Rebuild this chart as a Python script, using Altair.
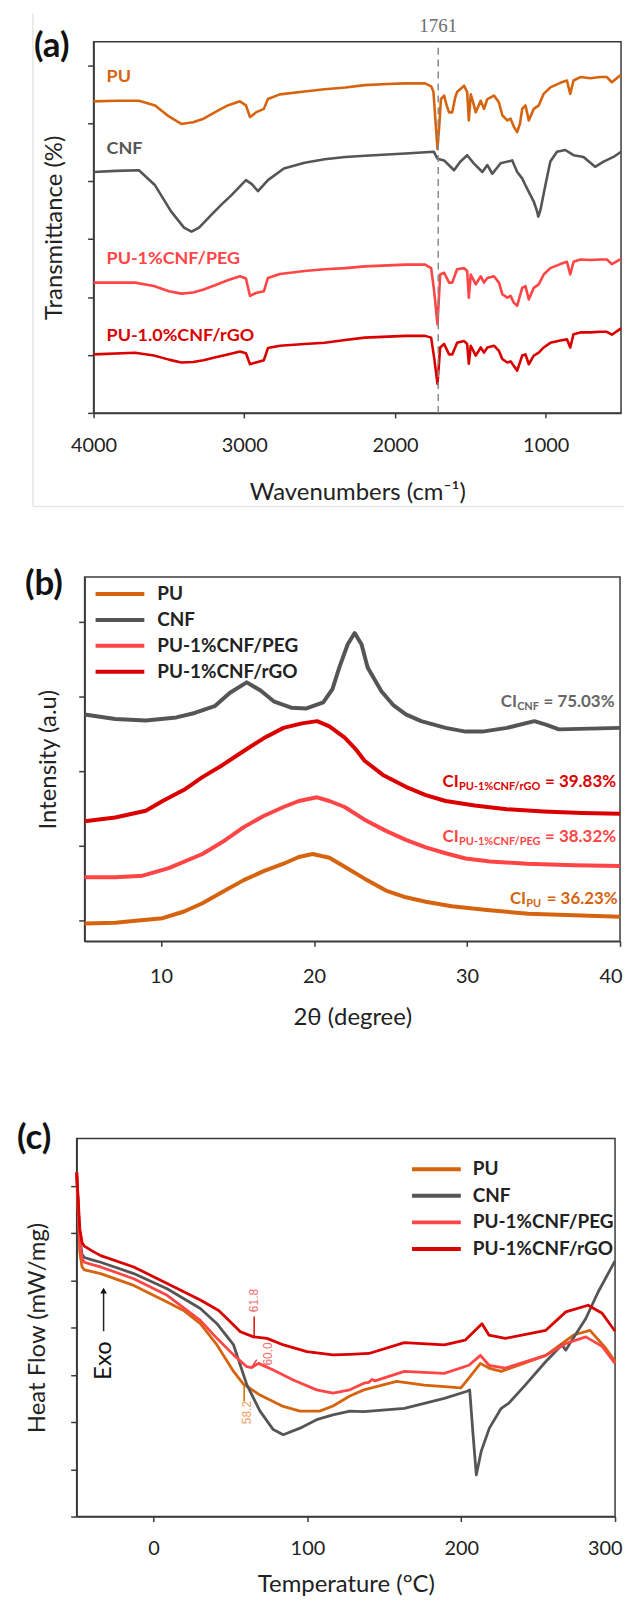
import altair as alt
import pandas as pd

FONT = "Lato"
INK = "#222222"
FRAME = "#3a3a3a"

series_names = ["PU", "CNF", "PU-1%CNF/PEG", "PU-1%CNF/rGO"]
series_colors = ["#D6640F", "#555555", "#FF4545", "#DA0000"]

# ---------------- (a) FTIR ----------------
pu_wn = [4000, 3850, 3699, 3592, 3500, 3418, 3340, 3270, 3190, 3110, 3029, 2989, 2962, 2940, 2923, 2870, 2843, 2764,
         2600, 2467, 2330, 2200, 2050, 1931, 1800, 1760, 1745, 1730, 1718, 1705, 1695, 1674, 1656, 1641, 1620, 1600,
         1588, 1541, 1521, 1510, 1497, 1480, 1464, 1431, 1409, 1387, 1343, 1310, 1288, 1255, 1233, 1211, 1189, 1170,
         1156, 1134, 1112, 1079, 1046, 1013, 969, 903, 859, 837, 815, 770, 704, 638, 594, 561, 500]
pu_tr = [5.38, 5.39, 5.39, 5.31, 5.12, 4.99, 5.02, 5.08, 5.2, 5.31, 5.38, 5.31, 5.11, 5.15, 5.19, 5.25, 5.42, 5.5,
         5.55, 5.59, 5.62, 5.66, 5.68, 5.69, 5.69, 5.64, 5.55, 5.0, 4.56, 5.0, 5.42, 5.48, 5.3, 5.19, 5.19, 5.45,
         5.54, 5.65, 5.54, 5.05, 5.5, 5.35, 5.19, 5.39, 5.25, 5.42, 5.48, 5.36, 5.14, 5.05, 5.08, 4.94, 4.85, 5.0,
         5.25, 5.31, 5.05, 5.25, 5.31, 5.51, 5.62, 5.7, 5.74, 5.51, 5.74, 5.8, 5.78, 5.8, 5.8, 5.71, 5.84]
cnf_wn = [4000, 3850, 3699, 3592, 3486, 3400, 3350, 3300, 3219, 3150, 3085, 2989, 2950, 2909, 2843, 2737, 2600, 2467,
          2330, 2200, 1931, 1743, 1718, 1674, 1608, 1566, 1521, 1477, 1420, 1387, 1354, 1299, 1222, 1189, 1156, 1134,
          1101, 1079, 1057, 1049, 1035, 1002, 969, 925, 870, 815, 749, 672, 616, 550, 500]
cnf_tr = [4.16, 4.18, 4.19, 3.93, 3.48, 3.2, 3.13, 3.2, 3.42, 3.6, 3.76, 4.02, 3.95, 3.83, 4.02, 4.22, 4.32, 4.38,
          4.42, 4.44, 4.48, 4.51, 4.39, 4.36, 4.19, 4.34, 4.45, 4.31, 4.16, 4.28, 4.13, 4.31, 4.36, 4.16, 4.05, 3.93,
          3.76, 3.65, 3.48, 3.39, 3.5, 3.93, 4.34, 4.51, 4.54, 4.45, 4.42, 4.25, 4.34, 4.42, 4.51]
comp_wn = [4000, 3725, 3600, 3500, 3418, 3340, 3270, 3190, 3110, 3029, 2989, 2962, 2923, 2870, 2843, 2764, 2600, 2467,
           2330, 2200, 1931, 1800, 1760, 1740, 1718, 1700, 1674, 1641, 1620, 1588, 1541, 1521, 1510, 1497, 1464, 1431,
           1409, 1387, 1343, 1310, 1288, 1255, 1233, 1211, 1189, 1156, 1134, 1112, 1079, 1046, 1013, 969, 903, 859,
           837, 815, 770, 704, 638, 594, 561, 500]
peg_tr = [2.25, 2.25, 2.19, 2.1, 2.06, 2.08, 2.13, 2.21, 2.29, 2.36, 2.32, 2.02, 2.07, 2.1, 2.33, 2.4, 2.45, 2.48,
          2.5, 2.53, 2.56, 2.56, 2.5, 2.1, 1.53, 2.39, 2.42, 2.25, 2.25, 2.48, 2.5, 2.45, 1.99, 2.39, 2.22, 2.36,
          2.25, 2.33, 2.36, 2.25, 2.05, 1.99, 2.02, 1.9, 1.85, 2.16, 2.19, 1.96, 2.16, 2.22, 2.39, 2.5, 2.57, 2.61,
          2.39, 2.61, 2.65, 2.64, 2.65, 2.65, 2.57, 2.66]
rgo_tr = [1.01, 1.04, 0.99, 0.92, 0.87, 0.88, 0.91, 0.96, 1.01, 1.06, 1.03, 0.84, 0.87, 0.91, 1.12, 1.16, 1.19, 1.21,
          1.26, 1.3, 1.33, 1.33, 1.3, 0.95, 0.5, 1.13, 1.19, 1.01, 1.01, 1.21, 1.24, 1.19, 0.85, 1.16, 0.99, 1.13,
          1.04, 1.13, 1.16, 1.07, 0.93, 0.87, 0.89, 0.81, 0.73, 0.99, 1.01, 0.84, 0.99, 1.04, 1.13, 1.21, 1.25, 1.27,
          1.13, 1.36, 1.39, 1.39, 1.4, 1.4, 1.35, 1.46]
a_label_text = ["PU", "CNF", "PU-1%CNF/PEG", "PU-1.0%CNF/rGO"]
a_label_wn = [3914, 3914, 3914, 3914]
a_label_y = [5.8, 4.55, 2.65, 1.33]
marker_wn = 1713
marker_text = "1761"
# faint frame around panel (a): left edge, top, bottom, right end (data units of panel a)
box_a_left, box_a_top, box_a_bottom, box_a_right = 4402.8, 6.891, -1.615, 480.3

# ---------------- (b) XRD ----------------
x_pu_2t = [5, 7, 8.5, 10.1, 11.5, 12.7, 14, 15.4, 16.7, 18, 19, 19.9, 21, 22, 23.3, 24.7, 26, 27.3, 29, 31.3, 34, 37, 40]
x_pu_i = [-0.04, -0.03, 0.0, 0.03, 0.12, 0.23, 0.38, 0.54, 0.66, 0.76, 0.85, 0.89, 0.84, 0.72, 0.56, 0.4, 0.31, 0.25,
          0.19, 0.14, 0.09, 0.07, 0.05]
x_cnf_2t = [5, 7, 9, 11, 12.2, 13.5, 14.5, 15.6, 16.5, 17.4, 18.5, 19.5, 20.6, 21.2, 21.65, 22.2, 22.65, 23.1, 23.5,
            24.4, 25.2, 26, 27, 28.6, 29.9, 31, 32.6, 34.4, 35.2, 36, 38, 40]
x_cnf_i = [2.76, 2.7, 2.68, 2.72, 2.78, 2.87, 3.05, 3.19, 3.08, 2.93, 2.85, 2.84, 2.92, 3.1, 3.39, 3.7, 3.85, 3.7, 3.39,
           3.07, 2.88, 2.76, 2.67, 2.58, 2.53, 2.53, 2.58, 2.67, 2.62, 2.56, 2.57, 2.58]
x_peg_2t = [5, 7, 8.8, 10.5, 12.7, 14, 15.4, 16.7, 18, 19, 20.2, 21, 22, 23.3, 24.7, 26, 27.3, 28.6, 29.9, 31.5, 33.9,
            37, 40]
x_peg_i = [0.58, 0.58, 0.6, 0.7, 0.89, 1.05, 1.25, 1.4, 1.52, 1.6, 1.65, 1.6, 1.52, 1.35, 1.2, 1.08, 0.98, 0.9, 0.83,
           0.79, 0.76, 0.74, 0.73]
x_rgo_2t = [5, 7, 9, 10.1, 11.5, 12.7, 14, 15.4, 16.7, 18, 19.2, 20.2, 21, 22, 22.7, 23.3, 24.5, 26, 27.3, 28.6, 30.5,
            32.6, 35, 37.5, 40]
x_rgo_i = [1.33, 1.38, 1.47, 1.6, 1.75, 1.92, 2.08, 2.27, 2.44, 2.58, 2.64, 2.67, 2.6, 2.45, 2.3, 2.14, 1.95, 1.79,
           1.68, 1.6, 1.54, 1.49, 1.46, 1.44, 1.43]
ci_main = ["CI", "CI", "CI", "CI"]
ci_sub = ["CNF", "PU-1%CNF/rGO", "PU-1%CNF/PEG", "PU"]
ci_value = ["= 75.03%", "= 39.83%", "= 38.32%", "= 36.23%"]
ci_x = [32.2, 28.4, 28.4, 32.8]
ci_y = [2.92, 1.85, 1.12, 0.29]
ci_color = ["#666666", "#DA0000", "#FF4545", "#D6640F"]
ci_sub_dx = [16.5, 16.5, 16.5, 16.5]
ci_val_dx = [43, 103, 103, 37]

# ---------------- (c) DSC ----------------
d_pu_t = [-50, -49, -48, -46.5, -45, -40, -34.4, -12.9, 8.8, 19.5, 30.4, 41.2, 52, 58.4, 69.2, 84.3, 95.2, 108, 116.6,
          127.6, 136.7, 158, 176, 199.8, 206, 212.5, 218, 226, 255, 273, 283.7, 294, 300]
d_pu_h = [7.28, 6.5, 5.6, 5.28, 5.22, 5.18, 5.14, 4.89, 4.54, 4.36, 4.08, 3.63, 3.07, 2.8, 2.57, 2.33, 2.23, 2.23,
          2.34, 2.55, 2.68, 2.86, 2.78, 2.72, 2.97, 3.24, 3.14, 3.07, 3.41, 3.84, 3.94, 3.56, 3.28]
d_cnf_t = [-50, -49, -48, -46.5, -45, -40, -34.4, -12.9, 8.8, 30.4, 41.2, 52, 60.6, 69.2, 77.8, 84.3, 95.2, 106, 116.6,
           127.6, 136.7, 163, 189, 203.8, 205.5, 207.7, 209.8, 213, 218.3, 226, 231, 241.6, 255, 265.4, 268, 270.6,
           281, 289, 300]
d_cnf_h = [7.28, 6.6, 5.9, 5.55, 5.48, 5.43, 5.38, 5.14, 4.82, 4.4, 4.08, 3.63, 2.79, 2.23, 1.84, 1.73, 1.87, 2.05,
           2.15, 2.23, 2.22, 2.29, 2.5, 2.65, 2.68, 1.73, 0.88, 1.38, 1.87, 2.29, 2.4, 2.78, 3.28, 3.63, 3.52, 3.66,
           4.19, 4.75, 5.41]
d_peg_t = [-50, -49, -48, -46.5, -45, -40, -34.4, -12.9, 8.8, 30.4, 41.2, 52, 60.6, 63.8, 68.2, 77.8, 90.8, 106, 116.6,
           127.6, 136.7, 140, 142, 144, 163, 189, 205, 212.5, 218, 228.7, 255, 268, 281, 291.6, 300]
d_peg_h = [7.28, 6.55, 5.8, 5.45, 5.38, 5.33, 5.28, 5.03, 4.68, 4.15, 3.77, 3.42, 3.17, 3.15, 3.24, 3.1, 2.89, 2.68,
           2.61, 2.68, 2.82, 2.84, 2.9, 2.87, 3.07, 3.03, 3.2, 3.41, 3.2, 3.14, 3.41, 3.66, 3.8, 3.6, 3.24]
d_rgo_t = [-50, -49, -48, -46.5, -45, -40, -34.4, -12.9, 8.8, 30.4, 42.3, 47.7, 56.4, 65, 73.7, 84.5, 99.6, 116.6,
           127.6, 140, 163, 189, 202.5, 213.5, 218, 228.7, 255, 268, 282.5, 291.6, 300]
d_rgo_h = [7.28, 6.7, 6.1, 5.8, 5.72, 5.62, 5.52, 5.28, 4.93, 4.58, 4.36, 4.19, 3.91, 3.8, 3.77, 3.63, 3.49, 3.42,
           3.43, 3.45, 3.68, 3.63, 3.73, 4.08, 3.84, 3.77, 3.94, 4.33, 4.47, 4.3, 3.92]
tg_text = ["61.8", "60.0", "58.2"]
tg_x1 = [65.4, 63.9, 58.9]
tg_y1 = [3.81, 3.16, 2.79]
tg_x2 = [65.4, 67.1, 58.9]
tg_y2 = [4.23, 3.32, 2.44]
tg_tx = [65.4, 74.2, 60.6]
tg_ty = [4.57, 3.44, 2.2]
tg_line_color = ["#E01818", "#F04040", "#D8700F"]
tg_text_color = ["#F07070", "#F07070", "#F0A060"]
exo_x = -32.5
exo_y_from, exo_y_to, exo_y_text = 3.92, 4.78, 3.3


def long_df(pairs):
    frames = []
    for name, xs, ys in pairs:
        assert len(xs) == len(ys), name
        frames.append(pd.DataFrame({"x": xs, "y": ys, "series": name}))
    return pd.concat(frames, ignore_index=True)


def xaxis(title, values, label_pad, title_pad, flush=False, flush_off=0):
    kw = dict(title=title, values=values, format="d", grid=False, domainColor=FRAME, domainWidth=1.5,
              tickColor=FRAME, tickWidth=1.5, tickSize=5, labelFont=FONT, labelFontSize=20, labelColor=INK,
              labelPadding=label_pad, labelOverlap=False, titleFont=FONT, titleFontSize=24,
              titleFontWeight="normal", titleColor=INK, titlePadding=title_pad)
    if flush:
        kw.update(labelFlush=True, labelFlushOffset=flush_off)
    else:
        kw.update(labelFlush=False)
    return alt.Axis(**kw)


def yaxis(title, values, title_pad):
    return alt.Axis(title=title, values=values, labels=False, grid=False, domainColor=FRAME, domainWidth=1.5,
                    tickColor=FRAME, tickWidth=1.5, tickSize=6, titleFont=FONT, titleFontSize=24,
                    titleFontWeight="normal", titleColor=INK, titlePadding=title_pad)


def text_layer(df, xenc, yenc, **kw):
    return alt.Chart(df).mark_text(**kw).encode(x=xenc, y=yenc)


def vspan(xv, ylo, yhi, xenc, yenc):
    # invisible vertical extent that fixes the panel's top/bottom bounds
    return alt.Chart(pd.DataFrame({"x": [xv], "y": [ylo], "y2": [yhi]})).mark_rule(opacity=0, strokeOpacity=0).encode(
        x=xenc, y=yenc, y2="y2:Q")


def spacer(w):
    return alt.Chart(pd.DataFrame({"z": [0]})).mark_point(opacity=0, size=1).encode(
        x=alt.value(w / 2), y=alt.value(0.5)).properties(
        width=w, height=1, view=alt.ViewBackground(stroke="transparent", strokeOpacity=0))


# ---------------- panel (a) ----------------
xa = alt.X("x:Q", scale=alt.Scale(domain=[500, 4000], reverse=True, nice=False, zero=False),
           axis=xaxis("Wavenumbers (cm⁻¹)", [4000, 3000, 2000, 1000], 18, 25))
ya = alt.Y("y:Q", scale=alt.Scale(domain=[0, 6.41], nice=False, zero=False),
           axis=yaxis("Transmittance (%)", [0, 1, 2, 3, 4, 5, 6], 20))
col_a = alt.Color("series:N", scale=alt.Scale(domain=series_names, range=series_colors), legend=None)

df_a = long_df([("PU", pu_wn, pu_tr), ("CNF", cnf_wn, cnf_tr), ("PU-1%CNF/PEG", comp_wn, peg_tr),
                ("PU-1%CNF/rGO", comp_wn, rgo_tr)])
box_left = alt.Chart(pd.DataFrame({"x": [box_a_left], "y": [box_a_bottom], "y2": [box_a_top]})).mark_rule(
    color="#e6e6e6", strokeWidth=1.5).encode(x=xa, y=ya, y2="y2:Q")
box_bottom = alt.Chart(pd.DataFrame({"x": [box_a_left], "x2": [box_a_right], "y": [box_a_bottom]})).mark_rule(
    color="#e6e6e6", strokeWidth=1.5).encode(x=xa, x2="x2:Q", y=ya)
lines_a = alt.Chart(df_a).mark_line(strokeWidth=2.6, strokeJoin="round").encode(x=xa, y=ya, color=col_a)
dash_a = alt.Chart(pd.DataFrame({"x": [marker_wn], "y": [0], "y2": [6.41]})).mark_rule(
    strokeDash=[7, 5], color="#8a8a8a", strokeWidth=1.5).encode(x=xa, y=ya, y2="y2:Q")
mark_lbl = text_layer(pd.DataFrame({"x": [marker_wn], "y": [6.68], "t": [marker_text]}), xa, ya,
                      font="Liberation Serif", fontSize=19, color="#6e6e6e", align="center",
                      baseline="middle").encode(text="t:N")
lbl_a = alt.Chart(pd.DataFrame({"x": a_label_wn, "y": a_label_y, "t": a_label_text, "series": series_names})).mark_text(
    font=FONT, fontSize=18, fontWeight="bold", align="left", baseline="middle").encode(x=xa, y=ya, text="t:N",
                                                                                       color=col_a)
tag_a = text_layer(pd.DataFrame({"x": [4396], "y": [6.34], "t": ["(a)"]}), xa, ya, font=FONT, fontSize=35,
                   fontWeight="bold", color="#111", align="left", baseline="middle").encode(text="t:N")
span_a = vspan(4000, -2.079, 6.891, xa, ya)
panel_a = alt.layer(span_a, box_left, box_bottom, lines_a, dash_a, mark_lbl, lbl_a, tag_a).properties(
    width=530, height=373)

# ---------------- panel (b) ----------------
xb = alt.X("x:Q", scale=alt.Scale(domain=[5, 40], nice=False, zero=False),
           axis=xaxis("2θ (degree)", [10, 20, 30, 40], 20, 20, flush=True, flush_off=2))
yb = alt.Y("y:Q", scale=alt.Scale(domain=[-0.28, 4.6], nice=False, zero=False),
           axis=yaxis("Intensity (a.u)", [0, 1, 2, 3, 4], 18))
col_b = alt.Color("series:N", scale=alt.Scale(domain=series_names, range=series_colors),
                  legend=alt.Legend(orient="none", legendX=9, legendY=7.5, title=None, direction="vertical",
                                    symbolType="stroke", symbolSize=2401, symbolStrokeWidth=4, clipHeight=19,
                                    rowPadding=6, labelOffset=11, labelFont=FONT, labelFontSize=19,
                                    labelFontWeight="bold", labelColor=INK, padding=0, labelLimit=400))
df_b = long_df([("PU", x_pu_2t, x_pu_i), ("CNF", x_cnf_2t, x_cnf_i), ("PU-1%CNF/PEG", x_peg_2t, x_peg_i),
                ("PU-1%CNF/rGO", x_rgo_2t, x_rgo_i)])
lines_b = alt.Chart(df_b).mark_line(strokeWidth=4, strokeJoin="round").encode(x=xb, y=yb, color=col_b)
ci_layers = []
for i in range(len(ci_main)):
    d = pd.DataFrame({"x": [ci_x[i]], "y": [ci_y[i]], "m": [ci_main[i]], "s": [ci_sub[i]], "v": [ci_value[i]]})
    ci_layers.append(text_layer(d, xb, yb, font=FONT, fontSize=17, fontWeight="bold", color=ci_color[i],
                                align="left", baseline="middle").encode(text="m:N"))
    ci_layers.append(text_layer(d, xb, yb, font=FONT, fontSize=11, fontWeight="bold", color=ci_color[i],
                                align="left", baseline="middle", dx=ci_sub_dx[i], dy=5).encode(text="s:N"))
    ci_layers.append(text_layer(d, xb, yb, font=FONT, fontSize=17, fontWeight="bold", color=ci_color[i],
                                align="left", baseline="middle", dx=ci_val_dx[i]).encode(text="v:N"))
tag_b = text_layer(pd.DataFrame({"x": [1.1], "y": [4.51], "t": ["(b)"]}), xb, yb, font=FONT, fontSize=35,
                   fontWeight="bold", color="#111", align="left", baseline="middle").encode(text="t:N")
span_b = vspan(5, -2.44, 5.16, xb, yb)
panel_b = alt.layer(span_b, lines_b, *ci_layers, tag_b).properties(width=538, height=366)

# ---------------- panel (c) ----------------
xc = alt.X("x:Q", scale=alt.Scale(domain=[-50, 300], nice=False, zero=False),
           axis=xaxis("Temperature (°C)", [0, 100, 200, 300], 17, 14, flush=True, flush_off=7))
yc = alt.Y("y:Q", scale=alt.Scale(domain=[0, 8], nice=False, zero=False),
           axis=yaxis("Heat Flow (mW/mg)", [0, 1, 2, 3, 4, 5, 6, 7], 21))
col_c = alt.Color("series:N", scale=alt.Scale(domain=series_names, range=series_colors),
                  legend=alt.Legend(orient="none", legendX=335, legendY=21.5, title=None, direction="vertical",
                                    symbolType="stroke", symbolSize=2401, symbolStrokeWidth=4, clipHeight=19,
                                    rowPadding=6.7, labelOffset=10, labelFont=FONT, labelFontSize=19,
                                    labelFontWeight="bold", labelColor=INK, padding=0, labelLimit=400))
df_c = long_df([("PU", d_pu_t, d_pu_h), ("CNF", d_cnf_t, d_cnf_h), ("PU-1%CNF/PEG", d_peg_t, d_peg_h),
                ("PU-1%CNF/rGO", d_rgo_t, d_rgo_h)])
lines_c = alt.Chart(df_c).mark_line(strokeWidth=2.8, strokeJoin="round").encode(x=xc, y=yc, color=col_c)
tg_layers = []
for i in range(len(tg_text)):
    seg = pd.DataFrame({"x": [tg_x1[i]], "y": [tg_y1[i]], "x2": [tg_x2[i]], "y2": [tg_y2[i]]})
    tg_layers.append(alt.Chart(seg).mark_rule(color=tg_line_color[i], strokeWidth=1.6).encode(
        x=xc, y=yc, x2="x2:Q", y2="y2:Q"))
    tg_layers.append(text_layer(pd.DataFrame({"x": [tg_tx[i]], "y": [tg_ty[i]], "t": [tg_text[i]]}), xc, yc,
                                font="Liberation Sans", fontSize=12, color=tg_text_color[i], angle=270,
                                align="center", baseline="middle").encode(text="t:N"))
exo_line = alt.Chart(pd.DataFrame({"x": [exo_x], "y": [exo_y_from], "y2": [exo_y_to]})).mark_rule(
    color="#222", strokeWidth=1.5).encode(x=xc, y=yc, y2="y2:Q")
exo_head = alt.Chart(pd.DataFrame({"x": [exo_x], "y": [exo_y_to]})).mark_point(
    shape="triangle-up", filled=True, size=45, color="#111", opacity=1).encode(x=xc, y=yc)
exo_txt = text_layer(pd.DataFrame({"x": [exo_x], "y": [exo_y_text], "t": ["Exo"]}), xc, yc, font=FONT, fontSize=24,
                     color="#111", angle=270, align="center", baseline="middle").encode(text="t:N")
tag_c = text_layer(pd.DataFrame({"x": [-88.8], "y": [8.0], "t": ["(c)"]}), xc, yc, font=FONT, fontSize=35,
                   fontWeight="bold", color="#111", align="left", baseline="middle").encode(text="t:N")
span_c = vspan(-50, -1.684, 8.716, xc, yc)
panel_c = alt.layer(span_c, lines_c, *tg_layers, exo_line, exo_head, exo_txt, tag_c).properties(width=541, height=380)

RES = dict(x="independent", y="independent", color="independent")
row_a = alt.hconcat(spacer(23), panel_a, spacing=0).resolve_scale(**RES)
row_b = alt.hconcat(spacer(16), panel_b, spacing=0).resolve_scale(**RES)
row_c = alt.hconcat(spacer(8), panel_c, spacing=0).resolve_scale(**RES)

chart = alt.concat(row_a, row_b, row_c, columns=1, spacing=0, align="none", bounds="full",
                   padding={"left": 0, "right": 0, "top": 0, "bottom": 0}).resolve_scale(**RES).configure_view(
    stroke=FRAME, strokeWidth=1.5)

chart.save("out.html", embed_options={"renderer": "svg", "actions": False})
